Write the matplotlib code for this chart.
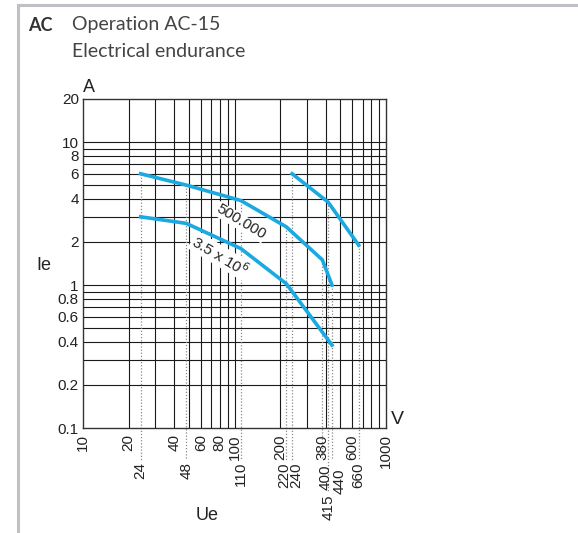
import numpy as np
import matplotlib
matplotlib.use("Agg")
import matplotlib.pyplot as plt
from matplotlib.lines import Line2D

# curves (Ue in V, Ie in A)
ue_500k = [24, 48, 110, 220, 380, 440]
ie_500k = [6.0, 5.0, 3.9, 2.55, 1.5, 1.0]
ue_35m = [24, 48, 110, 220, 440]
ie_35m = [3.0, 2.7, 1.8, 1.02, 0.38]
ue_hi = [240, 415, 660]
ie_hi = [6.0, 3.8, 1.9]

# grid lines
grid_x = [20, 30, 40, 50, 60, 70, 80, 90, 100, 200, 300, 400, 500, 600, 700, 800, 900]
grid_y = [0.2, 0.3, 0.4, 0.5, 0.6, 0.7, 0.8, 0.9, 1, 2, 3, 4, 5, 6, 7, 8, 9, 10]

# tick labels
yticks = [0.1, 0.2, 0.4, 0.6, 0.8, 1, 2, 4, 6, 8, 10, 20]
ytick_labels = ["0.1", "0.2", "0.4", "0.6", "0.8", "1", "2", "4", "6", "8", "10", "20"]
xticks_row1 = [10, 20, 40, 60, 80, 100, 200, 380, 600, 1000]
xticks_row2 = [24, 48, 110, 220, 240, 400, 440, 660]
xticks_row3 = [415]

W, H = 578, 533
fig = plt.figure(figsize=(W / 100, H / 100), dpi=100)
ax = fig.add_axes([83 / W, 1 - 428 / H, (386 - 83) / W, (428 - 99) / H])
ax.set_xscale("log")
ax.set_yscale("log")
ax.set_xlim(10, 1000)
ax.set_ylim(0.1, 20)

narrow = ["Liberation Sans Narrow", "Liberation Sans", "DejaVu Sans"]
plt.rcParams["mathtext.fontset"] = "custom"
plt.rcParams["mathtext.rm"] = "Liberation Sans Narrow"
plt.rcParams["mathtext.it"] = "Liberation Sans Narrow"

for gx in grid_x:
    ax.axvline(gx, color="#1a1a1a", lw=0.8, zorder=1)
for gy in grid_y:
    ax.axhline(gy, color="#1a1a1a", lw=0.8, zorder=1)
for s in ax.spines.values():
    s.set_color("#333333")
    s.set_linewidth(1.0)

ax.xaxis.set_major_locator(matplotlib.ticker.NullLocator())
ax.xaxis.set_minor_locator(matplotlib.ticker.NullLocator())
ax.set_yticks(yticks)
ax.set_yticklabels(ytick_labels, family=narrow, fontsize=11, color="#222222")
ax.yaxis.set_minor_locator(matplotlib.ticker.NullLocator())
ax.tick_params(axis="y", length=0, pad=3)

# dotted leaders from curve points down to the labels
px_per_dec = (428 - 99) / np.log10(200)
def below(px):
    return 0.1 * 10 ** (-px / px_per_dec)

tops = {}
for xs, ys in [(ue_500k, ie_500k), (ue_35m, ie_35m), (ue_hi, ie_hi)]:
    for x, y in zip(xs, ys):
        tops[x] = max(tops.get(x, 0), y)
for x, y in tops.items():
    end = below(64) if x == 415 else below(32)
    ax.plot([x, x], [y, end], color="#8a8a8a", lw=0.9, ls=(0, (1, 1.5)),
            clip_on=False, zorder=2)

# curves
blue = "#1aa9e1"
for xs, ys in [(ue_500k, ie_500k), (ue_35m, ie_35m), (ue_hi, ie_hi)]:
    ax.plot(xs, ys, color=blue, lw=2.6, solid_joinstyle="miter", zorder=4)

ax.text(110, 2.75, "500.000", rotation=-31, ha="center", va="center",
        family=narrow, fontsize=11, color="#222222", zorder=5,
        bbox=dict(facecolor="white", edgecolor="none", pad=0.5))
ax.text(80, 1.6, r"3.5 x 10$^{6}$", rotation=-31, ha="center", va="center",
        family=narrow, fontsize=11, color="#222222", zorder=5,
        bbox=dict(facecolor="white", edgecolor="none", pad=0.5))

# x tick labels in rows
label_shift = {220: -2.5, 240: 4.5, 400: -0.5, 440: 7.5}
label_drop = {400: 37, 440: 41}

def xlab(x, off_px):
    dx = label_shift.get(x, 0)
    ax.annotate(str(x), xy=(x, 0), xycoords=("data", "axes fraction"),
                xytext=(dx * 0.72, -off_px * 0.72), textcoords="offset points",
                rotation=90, ha="center", va="top", family=narrow,
                fontsize=11, color="#222222", annotation_clip=False)

for x in xticks_row1:
    xlab(x, 6)
for x in xticks_row2:
    xlab(x, label_drop.get(x, 34))
for x in xticks_row3:
    xlab(x, 66)

# axis titles
def ftext(x, y, s, **kw):
    fig.text(x / W, 1 - y / H, s, **kw)

reg = ["Liberation Sans", "DejaVu Sans"]
ftext(89, 88, "A", ha="center", va="center", family=reg, fontsize=13, color="#222222")
ftext(397, 420, "V", ha="center", va="center", family=reg, fontsize=14, color="#222222")
ftext(44, 266, "Ie", ha="center", va="center", family=reg, fontsize=13, color="#222222")
ftext(207, 515, "Ue", ha="center", va="center", family=reg, fontsize=13, color="#222222")

# header
hdr = ["Lato", "DejaVu Sans"]
ftext(28, 31, "AC", ha="left", va="baseline", family=hdr,
      fontsize=13, fontweight="bold", color="#333333")
ftext(72, 30, "Operation AC-15", ha="left", va="baseline",
      family=hdr, fontsize=14, color="#444444")
ftext(72, 57, "Electrical endurance", ha="left", va="baseline",
      family=hdr, fontsize=14, color="#444444")

# frame
fig.add_artist(Line2D([18 / W, 1], [1 - 5 / H, 1 - 5 / H], color="#bfbfc6", lw=2.2))
fig.add_artist(Line2D([18 / W, 18 / W], [0, 1 - 5 / H], color="#bfbfc6", lw=2.2))

fig.savefig("out.png", dpi=100)
